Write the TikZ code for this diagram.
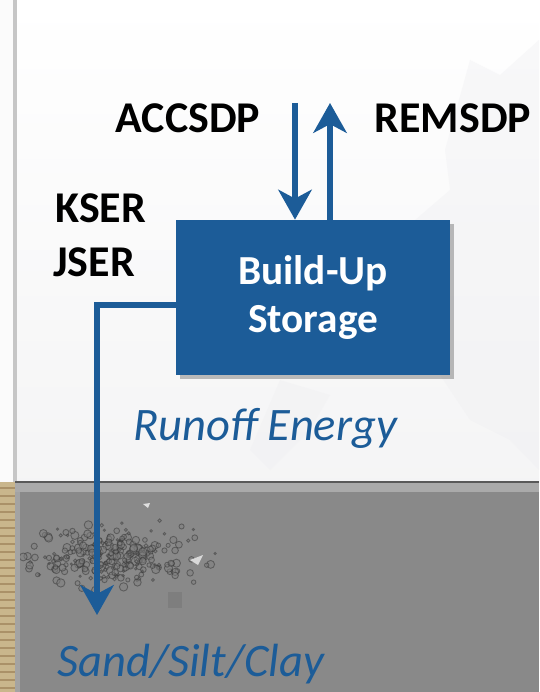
\documentclass[tikz,border=0pt]{standalone}
\usepackage{fontspec}
\setmainfont{Carlito}
\usetikzlibrary{arrows.meta,shadows}

\definecolor{boxblue}{RGB}{28,92,152}
\definecolor{ground}{RGB}{137,137,137}
\definecolor{groundlight}{RGB}{170,170,170}
\definecolor{sandstrip}{RGB}{201,182,140}

\begin{document}
\begin{tikzpicture}
[x=0.02cm,y=-0.02cm,
 store/.style={rectangle,fill=boxblue,draw=none,minimum width=5.48cm,minimum height=3.1cm,
   text=white,font=\bfseries\fontsize{23.5}{27}\selectfont,align=center,
   drop shadow={shadow xshift=2.5pt,shadow yshift=-2.5pt,opacity=0.25,fill=black}},
 lbl/.style={inner sep=0pt,font=\bfseries\fontsize{25}{28}\selectfont,text=black},
 note/.style={inner sep=0pt,font=\itshape\fontsize{26.5}{29}\selectfont,text=boxblue},
 flow/.style={draw=boxblue,line width=3.4pt,-{Stealth[length=17pt,width=19pt,inset=5pt]}}]
\useasboundingbox (0,0) rectangle (539,692);

% sky and margin
\shade[top color=white,bottom color=blue!4!gray!8] (0,0) rectangle (539,482);
\fill[blue!10!gray!12,opacity=0.35] (470,60) -- (500,75) -- (539,40) -- (539,470) -- (510,440) -- (470,420) -- (430,360) -- (445,330) -- (425,290) -- (440,250) -- (415,220) -- (450,190) -- (445,150) -- cycle;
\fill[blue!10!gray!12,opacity=0.35] (280,380) -- (330,395) -- (310,430) -- (270,470) -- (250,450) -- cycle;
\fill[white!97!gray] (0,0) rectangle (13,482);
\fill[gray!45] (13,0) rectangle (17,482);

% ground
\fill[ground] (15,482) rectangle (539,692);
\fill[groundlight] (15,482) rectangle (539,492);
\draw[gray!70!black,line width=0.6pt] (15,482) -- (539,482);
\fill[groundlight!80!ground] (15,492) rectangle (20,692);
\fill[sandstrip] (0,482) rectangle (15,692);
\foreach \yy in {488,496,...,688}
  \draw[brown!60!black,opacity=0.35,line width=0.8pt] (0,\yy) -- (15,\yy);

% scattered grains
\begin{scope}
\clip (20,492) rectangle (539,692);
\pgfmathsetseed{42}
\foreach \i in {1,...,300} {
  \pgfmathsetmacro\px{110+40*(rand+rand+rand)}
  \pgfmathsetmacro\py{555+13*(rand+rand+rand)}
  \pgfmathsetmacro\pr{2.6+1.6*rand}
  \filldraw[draw=black!80,fill=black!50,line width=0.5pt,opacity=0.5] (\px,\py) circle (\pr);
}
\end{scope}
\fill[gray!30] (190,560) -- (203,555) -- (198,565) -- cycle;
\fill[gray!25] (143,504) -- (150,503) -- (148,508) -- cycle;
\fill[ground!85!black,opacity=0.5] (168,592) rectangle (182,608);

% storage box and its fluxes
\node[store] (store) at (313,297.5) {Build-Up\\Storage};

\coordinate (accin) at (295,103);
\coordinate (remout) at (330,103);
\coordinate (sedout) at (store.west |- 0,305);
\coordinate (sedtip) at (97,615);

\draw[flow] (accin) -- (accin |- store.north);
\draw[flow] (remout |- store.north) -- (remout);
\draw[flow] (sedout) -| (sedtip);

\node[lbl] (accsdp) at (188,118) {ACCSDP};
\node[lbl] (remsdp) at (453,118) {REMSDP};
\node[lbl,anchor=west] (kser) at (55,208) {KSER};
\node[lbl,anchor=west] (jser) at (53,262) {JSER};

\node[note] (runoff) at (265,428) {Runoff Energy};
\node[note,anchor=west] (sediment) at (57,664) {Sand/Silt/Clay};

\end{tikzpicture}
\end{document}
